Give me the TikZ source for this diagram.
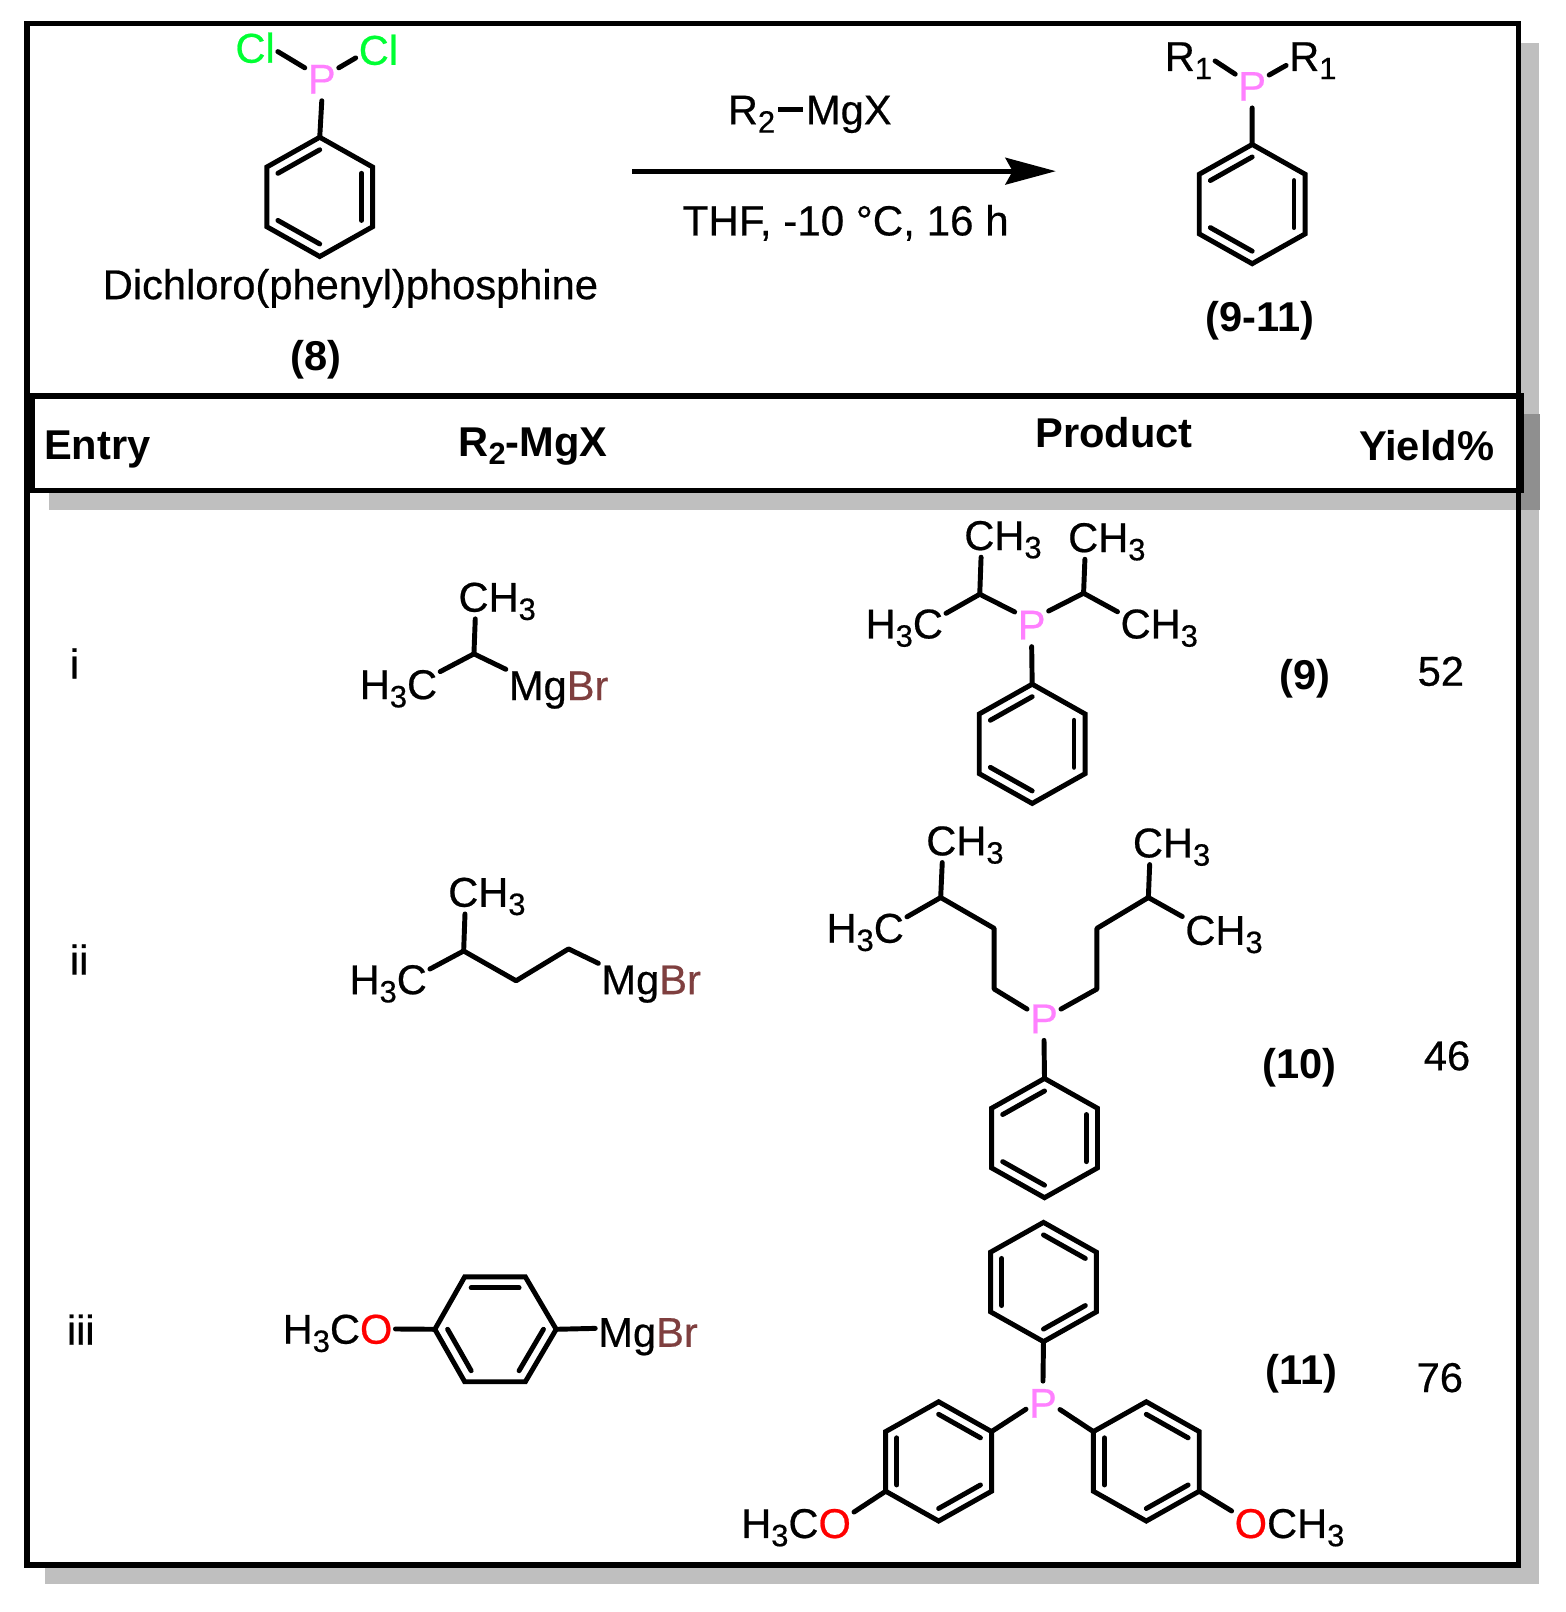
\documentclass[tikz,border=0pt]{standalone}
\usepackage{fontspec}
\setmainfont{Liberation Sans}[UprightFeatures={FakeBold=0.5}]
\usetikzlibrary{calc,arrows.meta}
\definecolor{phos}{HTML}{FF80FF}
\definecolor{chlo}{HTML}{00FF33}
\definecolor{brom}{HTML}{7F3F3F}
\definecolor{oxy}{HTML}{FF0000}
\definecolor{shadowgray}{HTML}{BFBFBF}
\definecolor{shadowdark}{HTML}{8F8F8F}
\newcommand{\sbs}[1]{\raisebox{-8pt}{\fontsize{30}{30}\selectfont #1}}
\newcommand{\Pp}{\textcolor{phos}{P}}
\newcommand{\Br}{\textcolor{brom}{Br}}
\newcommand{\Oo}{\textcolor{oxy}{O}}
\tikzset{
  lab/.style={inner sep=0pt,outer xsep=3pt,outer ysep=7pt,anchor=base west,xshift=-2pt,text height=28.6pt,text depth=0pt,font=\fontsize{40.5}{48}\selectfont},
  blab/.style={lab,font=\fontsize{40.5}{48}\selectfont\bfseries},
  bond/.style={line width=4.8pt,line cap=round,black},
  ringline/.style={line width=4.8pt,line join=miter,black},
  frame/.style={line width=5.5pt,black}
}
% pointy-top ring: n1 top, clockwise
\newcommand{\pring}[3]{%
  \coordinate (#1c) at (#2,#3);
  \coordinate (#11) at (#2,#3-58);
  \coordinate (#12) at (#2+51.5,#3-29);
  \coordinate (#13) at (#2+51.5,#3+29);
  \coordinate (#14) at (#2,#3+58);
  \coordinate (#15) at (#2-51.5,#3+29);
  \coordinate (#16) at (#2-51.5,#3-29);
  \draw[ringline] (#11) -- (#12) -- (#13) -- (#14) -- (#15) -- (#16) -- cycle;}
\newcommand{\dbl}[3]{\draw[bond] ($(#1)!.21!(#3)$) -- ($(#2)!.21!(#3)$);}
\newcommand{\setA}[1]{\dbl{#11}{#16}{#1c}\dbl{#12}{#13}{#1c}\dbl{#14}{#15}{#1c}}
\newcommand{\setB}[1]{\dbl{#11}{#12}{#1c}\dbl{#13}{#14}{#1c}\dbl{#15}{#16}{#1c}}
\begin{document}
\begin{tikzpicture}[x=1pt,y=-1pt]
\useasboundingbox (0,0) rectangle (1523,1568);
% frames and shadows
\fill[shadowgray] (44,42) rectangle (1497,1541);
\fill[white] (26,23) rectangle (1477,1522);
\fill[shadowgray] (48,403) rectangle (1477,496);
\fill[shadowdark] (1477,403) rectangle (1498,496);
\draw[frame,fill=white] (31,385) rectangle (1480,477);
\draw[frame] (26,23) rectangle (1477,1522);

% ---- scheme: reactant 8
\pring{ra}{311}{191.5}\setA{ra}
\node[lab] (P8) at (298.5,91) {\Pp};
\node[lab] (ClL) at (228,61) {\textcolor{chlo}{Cl}};
\node[lab] (ClR) at (348,63) {\textcolor{chlo}{Cl}};
\draw[bond] (P8.147) -- (ClL.-9);
\draw[bond] (P8.33) -- (ClR.199);
\draw[bond] (P8.south) -- (ra1);
\node[lab] (name8) at (99,291) {Dichloro(phenyl)phosphine};
\node[blab] (num8) at (282,360) {(8)};

% arrow and conditions
\node[lab] (Rtwo) at (707,121) {R\sbs{2}};
\node[lab] (MgX) at (783,121) {MgX};
\draw[bond,line cap=butt] (Rtwo.east) -- (MgX.west);
\coordinate (arrS) at (615,166.5);
\coordinate (arrE) at (1027,166.5);
\draw[line width=4.6pt,-{Stealth[length=49pt,width=26pt,inset=7pt]}] (arrS) -- (arrE);
\node[lab,font=\fontsize{41}{48}\selectfont] (cond) at (663,229) {THF, -10 °C, 16 h};

% product general
\pring{rb}{1218}{198.5}\setA{rb}
\node[lab] (Pg) at (1203.5,98) {\Pp};
\node[lab] (RgL) at (1132,69) {R\sbs{1}};
\node[lab] (RgR) at (1253,69) {R\sbs{1}};
\draw[bond] (Pg.145) -- (RgL.-10);
\draw[bond] (Pg.33) -- (RgR.199);
\draw[bond] (Pg.south) -- (rb1);
\node[blab] (numg) at (1172,322) {(9-11)};

% header
\node[blab] (hEntry) at (42,447) {Entry};
\node[blab] (hReag) at (445,444) {R\sbs{2}-MgX};
\node[blab] (hProd) at (1006,435) {Product};
\node[blab] (hYield) at (1321,448) {Yield\%};

% ---- entry i
\node[lab] (ei) at (67,660) {i};
\node[lab] (aCH) at (445,595) {CH\sbs{3}};
\node[lab] (aHC) at (349,680) {H\sbs{3}C};
\node[lab] (aMg) at (494,681) {Mg\Br};
\coordinate (aC) at (461,636);
\draw[bond] (aCH.225) -- (aC);
\draw[bond] (aHC.17) -- (aC);
\draw[bond] (aMg.163.5) -- (aC);

\pring{rc}{1004}{723.5}\setA{rc}
\node[lab] (bP) at (989,622) {\Pp};
\node[lab] (bCHa) at (937,535) {CH\sbs{3}};
\node[lab] (bCHb) at (1038,537) {CH\sbs{3}};
\node[lab] (bHC) at (841,621) {H\sbs{3}C};
\node[lab] (bCHc) at (1089,621) {CH\sbs{3}};
\coordinate (bCl) at (953,578);
\coordinate (bCr) at (1054,577);
\draw[bond] (bCHa.225) -- (bCl);
\draw[bond] (bHC.14) -- (bCl);
\draw[bond] (bP.143) -- (bCl);
\draw[bond] (bCHb.225) -- (bCr);
\draw[bond] (bCHc.164.6) -- (bCr);
\draw[bond] (bP.39) -- (bCr);
\draw[bond] (bP.south) -- (rc1);
\node[blab] (n9) at (1244,671) {(9)};
\node[lab] (y52) at (1378,667) {52};

% ---- entry ii
\node[lab] (eii) at (67,948) {ii};
\node[lab] (cCH) at (435,882) {CH\sbs{3}};
\node[lab] (cHC) at (339,967) {H\sbs{3}C};
\node[lab] (cMg) at (584,967) {Mg\Br};
\coordinate (cC) at (451,925);
\coordinate (cD) at (502,954);
\coordinate (cE) at (553,923);
\draw[bond] (cCH.225) -- (cC);
\draw[bond] (cHC.14) -- (cC);
\draw[bond,line join=round] (cC) -- (cD) -- (cE) -- (cMg.163.5);

\pring{rd}{1016}{1107}\setA{rd}
\node[lab] (dP) at (1001,1005) {\Pp};
\node[lab] (dCHa) at (900,832) {CH\sbs{3}};
\node[lab] (dHC) at (803,917) {H\sbs{3}C};
\node[lab] (dCHb) at (1101,834) {CH\sbs{3}};
\node[lab] (dCHc) at (1152,919) {CH\sbs{3}};
\coordinate (dA) at (915,873);
\coordinate (dB) at (967,903);
\coordinate (dC) at (967,962);
\coordinate (dD) at (1117,873);
\coordinate (dE) at (1067,903);
\coordinate (dF) at (1067,962);
\draw[bond] (dCHa.224) -- (dA);
\draw[bond] (dHC.15) -- (dA);
\draw[bond,line join=round] (dA) -- (dB) -- (dC) -- (dP.151);
\draw[bond] (dCHb.225) -- (dD);
\draw[bond] (dCHc.162) -- (dD);
\draw[bond,line join=round] (dD) -- (dE) -- (dF) -- (dP.29);
\draw[bond] (dP.south) -- (rd1);
\node[blab] (n10) at (1227,1049) {(10)};
\node[lab] (y46) at (1384,1041) {46};

% ---- entry iii
\node[lab] (eiii) at (64,1308) {iii};
\node[lab] (fMeO) at (274,1307) {H\sbs{3}C\Oo};
\node[lab] (fMg) at (581,1310) {Mg\Br};
\coordinate (f1) at (423,1293);
\coordinate (f2) at (452,1242);
\coordinate (f3) at (511,1242);
\coordinate (f4) at (541,1293);
\coordinate (f5) at (511,1344);
\coordinate (f6) at (452,1344);
\coordinate (fc) at (482,1293);
\draw[ringline] (f1) -- (f2) -- (f3) -- (f4) -- (f5) -- (f6) -- cycle;
\dbl{f2}{f3}{fc}\dbl{f4}{f5}{fc}\dbl{f6}{f1}{fc}
\draw[bond] (fMeO.east) -- (f1);
\draw[bond] (fMg.176.6) -- (f4);

\pring{rg}{1015}{1247}\setB{rg}
\pring{rh}{913}{1421.5}\setB{rh}
\pring{ri}{1115}{1421.5}\setB{ri}
\node[lab] (gP) at (1000,1379) {\Pp};
\node[lab] (gL) at (720,1496) {H\sbs{3}C\Oo};
\node[lab] (gR) at (1200,1496) {\Oo CH\sbs{3}};
\draw[bond] (gP.north) -- (rg4);
\draw[bond] (gP.200) -- (rh2);
\draw[bond] (gP.339) -- (ri6);
\draw[bond] (rh5) -- (gL.11.5);
\draw[bond] (ri3) -- (gR.168);
\node[blab] (n11) at (1230,1347) {(11)};
\node[lab] (y76) at (1377,1354) {76};
\end{tikzpicture}
\end{document}
